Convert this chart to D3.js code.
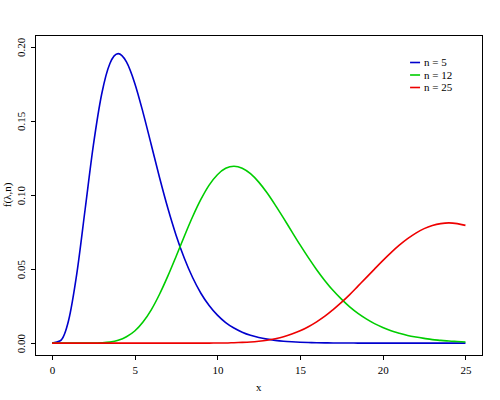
<!DOCTYPE html>
<meta charset="utf-8">
<style>

body {
    margin: 0;
    background: #fff;
}

.axis text, .label, .legend text {
    font: 11px "Liberation Serif", serif;
    fill: #000;
}

.axis line {
    stroke: #000;
    shape-rendering: crispEdges;
}

.box {
    fill: none;
    stroke: #000;
    shape-rendering: crispEdges;
}

.curve {
    fill: none;
    stroke-width: 1.6;
}

</style>
<body>
<script src="https://d3js.org/d3.v7.min.js"></script>
<script>

// x grid of the curves, read at steps of 0.5
var xs = d3.range(0, 25.01, 0.5);

var n5 = [0, 0.0016, 0.0153, 0.0471, 0.0902, 0.1336, 0.1680, 0.1888, 0.1954, 0.1898,
    0.1755, 0.1558, 0.1339, 0.1118, 0.0912, 0.0729, 0.0573, 0.0443, 0.0337, 0.0254,
    0.0189, 0.0139, 0.0102, 0.0074, 0.0053, 0.0038, 0.0027, 0.0019, 0.0013, 0.0009,
    0.0006, 0.0004, 0.0003, 0.0002, 0.0001, 0.0001, 0.0001, 0, 0, 0,
    0, 0, 0, 0, 0, 0, 0, 0, 0, 0, 0];

var n12 = [0, 0, 0, 0, 0, 0, 0.0002, 0.0007, 0.0019, 0.0043,
    0.0082, 0.0143, 0.0225, 0.0330, 0.0452, 0.0585, 0.0722, 0.0853, 0.0970, 0.1067,
    0.1137, 0.1180, 0.1194, 0.1181, 0.1144, 0.1087, 0.1015, 0.0932, 0.0844, 0.0753,
    0.0663, 0.0577, 0.0496, 0.0422, 0.0355, 0.0297, 0.0245, 0.0201, 0.0164, 0.0132,
    0.0106, 0.0084, 0.0067, 0.0052, 0.0041, 0.0032, 0.0024, 0.0019, 0.0014, 0.0011, 0.0008];

var n25 = [0, 0, 0, 0, 0, 0, 0, 0, 0, 0,
    0, 0, 0, 0, 0, 0, 0, 0, 0, 0,
    0.0001, 0.0001, 0.0003, 0.0005, 0.0008, 0.0013, 0.0020, 0.0030, 0.0043, 0.0061,
    0.0083, 0.0111, 0.0144, 0.0182, 0.0227, 0.0275, 0.0328, 0.0385, 0.0442, 0.0500,
    0.0557, 0.0611, 0.0661, 0.0705, 0.0743, 0.0773, 0.0794, 0.0807, 0.0812, 0.0807, 0.0795];

var seriesNames = ["n = 5", "n = 12", "n = 25"];
var seriesColors = ["#0000CD", "#00CD00", "#EE0000"];
var xTicks = [0, 5, 10, 15, 20, 25];
var yTicks = [0, 0.05, 0.10, 0.15, 0.20];

var margin = {top: 35, right: 18, bottom: 45, left: 35.5},
    width = 500 - margin.left - margin.right,
    height = 400 - margin.top - margin.bottom;

var x = d3.scaleLinear()
    .domain([-1, 26])
    .range([0, width]);

var y = d3.scaleLinear()
    .domain([-0.008, 0.208])
    .range([height, 0]);

var svg = d3.select("body").append("svg")
    .attr("width", 500)
    .attr("height", 400)
    .append("g")
    .attr("transform", "translate(" + margin.left + "," + margin.top + ")");

var xAxis = d3.axisBottom(x)
    .tickValues(xTicks)
    .tickSize(5)
    .tickPadding(6)
    .tickFormat(d3.format("d"));

var yAxis = d3.axisLeft(y)
    .tickValues(yTicks)
    .tickSize(5)
    .tickFormat(d3.format(".2f"));

var gx = svg.append("g")
    .attr("class", "axis")
    .attr("transform", "translate(0," + height + ")")
    .call(xAxis);
gx.select(".domain").remove();

var gy = svg.append("g")
    .attr("class", "axis")
    .call(yAxis);
gy.select(".domain").remove();
// R style: y labels turned parallel to the axis
gy.selectAll(".tick text")
    .attr("x", null)
    .attr("dy", null)
    .attr("text-anchor", "middle")
    .attr("transform", "translate(-11,0) rotate(-90)");

svg.append("rect")
    .attr("class", "box")
    .attr("width", width)
    .attr("height", height);

var line = d3.line()
    .x(function(d, i) { return x(xs[i]); })
    .y(function(d) { return y(d); })
    .curve(d3.curveMonotoneX);

[n5, n12, n25].forEach(function(s, i) {
    svg.append("path")
        .attr("class", "curve")
        .attr("stroke", seriesColors[i])
        .attr("d", line(s));
});

// axis titles
svg.append("text")
    .attr("class", "label")
    .attr("x", width / 2)
    .attr("y", height + 36)
    .attr("text-anchor", "middle")
    .text("x");

svg.append("text")
    .attr("class", "label")
    .attr("transform", "translate(" + (-25) + "," + (height / 2) + ") rotate(-90)")
    .attr("text-anchor", "middle")
    .text("f(λ,n)");

// legend, no frame
var legend = svg.append("g")
    .attr("class", "legend")
    .attr("transform", "translate(" + (x(21.65)) + "," + 27.5 + ")");

seriesNames.forEach(function(name, i) {
    var row = legend.append("g")
        .attr("transform", "translate(0," + (i * 12.5) + ")");
    row.append("line")
        .attr("x1", 0)
        .attr("x2", 10)
        .attr("stroke", seriesColors[i])
        .attr("stroke-width", 1.6);
    row.append("text")
        .attr("x", 14)
        .attr("dy", "0.35em")
        .text(name);
});

</script>
